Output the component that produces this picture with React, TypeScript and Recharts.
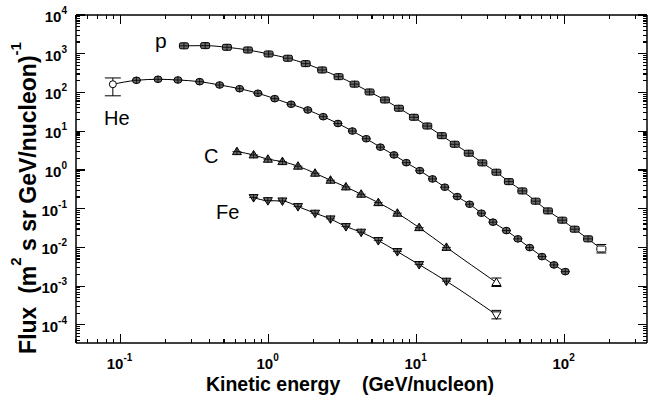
import { ComposedChart, Line, Scatter, XAxis, YAxis, ErrorBar } from 'recharts';

// Kinetic energy (GeV/nucleon) and flux values
const pEnergy = [0.268, 0.373, 0.523, 0.725, 1.0, 1.35, 1.78, 2.3, 2.97, 3.81, 4.81, 6.11, 7.59, 9.59, 11.8, 14.8, 18.1, 22.5, 27.8, 34.6, 42.0, 51.8, 63.7, 77.1, 96.4, 117, 144, 177];
const pFlux = [1600, 1620, 1466, 1250, 986, 764, 555, 381, 256, 164, 103, 64, 39.1, 22.9, 13.6, 7.67, 4.6, 2.7, 1.52, 0.872, 0.499, 0.287, 0.156, 0.0875, 0.0504, 0.0295, 0.0166, 0.0091];

const heEnergy = [0.0887, 0.128, 0.179, 0.244, 0.342, 0.467, 0.637, 0.847, 1.1, 1.42, 1.84, 2.34, 2.94, 3.68, 4.57, 5.69, 7.03, 8.52, 10.5, 12.8, 15.5, 18.8, 22.8, 27.4, 32.8, 40.4, 48.3, 58.0, 70.3, 84.7, 101];
const heFlux = [163, 206, 219, 210, 190, 156, 125, 95.3, 69.2, 49.6, 35.3, 23.7, 15.8, 10.1, 6.39, 3.87, 2.44, 1.54, 0.96, 0.586, 0.358, 0.205, 0.13, 0.0763, 0.0448, 0.0272, 0.0166, 0.00988, 0.00579, 0.00353, 0.00237];
// error bar of the lowest-energy He point: [low, high]
const heLowRange = [82, 237];

const cEnergy = [0.611, 0.792, 0.989, 1.24, 1.58, 2.06, 2.62, 3.33, 4.22, 5.51, 7.41, 10.4, 15.9, 34.6];
const cFlux = [2.97, 2.44, 1.89, 1.64, 1.25, 0.822, 0.542, 0.364, 0.236, 0.143, 0.0763, 0.0324, 0.01, 0.00124];

const feEnergy = [0.792, 0.989, 1.24, 1.58, 2.06, 2.62, 3.33, 4.22, 5.51, 7.41, 10.4, 15.9, 34.6];
const feFlux = [0.193, 0.161, 0.158, 0.113, 0.0763, 0.0544, 0.0344, 0.0247, 0.015, 0.00779, 0.0036, 0.00134, 0.000181];

const X_DECADES = [0.01, 0.1, 1, 10, 100];
const Y_DECADES = [1e-5, 1e-4, 1e-3, 1e-2, 1e-1, 1, 10, 100, 1000, 10000];
const X_DOMAIN = [0.05, 360];
const Y_DOMAIN = [3.4e-5, 1e4];

const withMinors = (decades: number[], domain: number[]) => {
  const out: number[] = [];
  decades.forEach((d) => {
    for (let m = 1; m <= 9; m++) {
      const v = m * d;
      if (v >= domain[0] * 0.999 && v <= domain[1] * 1.001) out.push(v);
    }
  });
  return out;
};
const X_TICKS = withMinors(X_DECADES, X_DOMAIN);
const Y_TICKS = withMinors(Y_DECADES, Y_DOMAIN);

const toPoints = (xs: number[], ys: number[]) => xs.map((x, i) => ({ x, y: ys[i] }));
const pData = toPoints(pEnergy, pFlux);
const heData = toPoints(heEnergy, heFlux);
const cData = toPoints(cEnergy, cFlux);
const feData = toPoints(feEnergy, feFlux);
const heLow = [
  { x: heEnergy[0], y: heFlux[0], err: [heFlux[0] - heLowRange[0], heLowRange[1] - heFlux[0]] },
];

const FONT = '"Liberation Sans", Arial, sans-serif';
const INK = '#000';
const FILL = '#6a6a6a';

const isDecade = (v: number) => {
  const l = Math.log10(v);
  return Math.abs(l - Math.round(l)) < 1e-6;
};

const TickLabel = ({ x, y, v, anchor }: { x: number; y: number; v: number; anchor: string }) => (
  <text x={x} y={y} textAnchor={anchor} fontFamily={FONT} fontWeight="bold" fontSize={15} fill={INK}>
    10
    <tspan dy={-8} fontSize={10}>{Math.round(Math.log10(v))}</tspan>
  </text>
);

const BottomTick = (props: any) => {
  const { x, y, payload } = props;
  const major = isDecade(payload.value);
  return (
    <g>
      <line x1={x} x2={x} y1={y} y2={y - (major ? 9 : 4)} stroke={INK} strokeWidth={1.2} shapeRendering="crispEdges" />
      {major && <TickLabel x={x - 1} y={y + 26} v={payload.value} anchor="middle" />}
    </g>
  );
};

const TopTick = (props: any) => {
  const { x, y, payload } = props;
  const major = isDecade(payload.value);
  return <line x1={x} x2={x} y1={y} y2={y + (major ? 9 : 4)} stroke={INK} strokeWidth={1.2} shapeRendering="crispEdges" />;
};

const LeftTick = (props: any) => {
  const { x, y, payload } = props;
  const major = isDecade(payload.value);
  return (
    <g>
      <line x1={x} x2={x + (major ? 9 : 4)} y1={y} y2={y} stroke={INK} strokeWidth={1.2} shapeRendering="crispEdges" />
      {major && <TickLabel x={x - 9} y={y + 7} v={payload.value} anchor="end" />}
    </g>
  );
};

const RightTick = (props: any) => {
  const { x, y, payload } = props;
  const major = isDecade(payload.value);
  return <line x1={x} x2={x - (major ? 9 : 4)} y1={y} y2={y} stroke={INK} strokeWidth={1.2} shapeRendering="crispEdges" />;
};

type Kind = 'square' | 'circle' | 'up' | 'down';

const marker = (kind: Kind, open: boolean, cx: number, cy: number) => {
  const fill = open ? '#fff' : FILL;
  let body;
  if (kind === 'square') {
    body = <rect x={cx - 4.5} y={cy - 3} width={9} height={6} rx={1.5} fill={fill} stroke={INK} strokeWidth={1} />;
  } else if (kind === 'circle') {
    body = <ellipse cx={cx} cy={cy} rx={4} ry={3.3} fill={fill} stroke={INK} strokeWidth={1} />;
  } else if (kind === 'up') {
    body = <polygon points={`${cx},${cy - 4.5} ${cx - 4.5},${cy + 3} ${cx + 4.5},${cy + 3}`} fill={fill} stroke={INK} strokeWidth={1} />;
  } else {
    body = <polygon points={`${cx},${cy + 4.5} ${cx - 4.5},${cy - 3} ${cx + 4.5},${cy - 3}`} fill={fill} stroke={INK} strokeWidth={1} />;
  }
  return (
    <g>
      {body}
      {open ? (
        <g stroke={INK} strokeWidth={1}>
          <line x1={cx - 5} x2={cx + 5} y1={cy - 4.5} y2={cy - 4.5} />
          <line x1={cx - 5} x2={cx + 5} y1={cy + 4} y2={cy + 4} />
        </g>
      ) : (
        <g stroke={INK} strokeWidth={0.8}>
          <line x1={cx - 4.5} x2={cx + 4.5} y1={cy} y2={cy} />
          <line x1={cx} x2={cx} y1={cy - 3.5} y2={cy + 3.5} />
        </g>
      )}
    </g>
  );
};

const makeDot = (kind: Kind, n: number, skipFirst = false, openLast = true) => (props: any) => {
  const { cx, cy, index } = props;
  if (cx == null || cy == null || (skipFirst && index === 0)) return <g key={`d${index}`} />;
  return <g key={`d${index}`}>{marker(kind, openLast && index === n - 1, cx, cy)}</g>;
};

const lineProps = {
  xAxisId: 'b',
  yAxisId: 'l',
  dataKey: 'y',
  type: 'monotone' as const,
  stroke: INK,
  strokeWidth: 1,
  isAnimationActive: false,
  activeDot: false as const,
};

const axisLine = { stroke: INK, strokeWidth: 1.5 };

export default function App() {
  return (
    <div style={{ position: 'absolute', left: 0, top: 0, width: 649, height: 401, background: '#fff' }}>
      <ComposedChart width={649} height={401} margin={{ top: 14, right: 1, bottom: 57, left: 75 }}>
        <XAxis xAxisId="b" type="number" dataKey="x" scale="log" domain={X_DOMAIN} allowDataOverflow ticks={X_TICKS} interval={0} tick={BottomTick} tickLine={false} tickSize={0} tickMargin={0} height={1} axisLine={axisLine} />
        <XAxis xAxisId="t" orientation="top" type="number" dataKey="x" scale="log" domain={X_DOMAIN} allowDataOverflow ticks={X_TICKS} interval={0} tick={TopTick} tickLine={false} tickSize={0} tickMargin={0} height={1} axisLine={axisLine} />
        <YAxis yAxisId="l" type="number" dataKey="y" scale="log" domain={Y_DOMAIN} allowDataOverflow ticks={Y_TICKS} interval={0} tick={LeftTick} tickLine={false} tickSize={0} tickMargin={0} width={1} axisLine={axisLine} />
        <YAxis yAxisId="r" orientation="right" type="number" dataKey="y" scale="log" domain={Y_DOMAIN} allowDataOverflow ticks={Y_TICKS} interval={0} tick={RightTick} tickLine={false} tickSize={0} tickMargin={0} width={1} axisLine={axisLine} />
        <Line {...lineProps} data={pData} name="p" dot={makeDot('square', pData.length)} />
        <Line {...lineProps} data={heData} name="He" dot={makeDot('circle', heData.length, true, false)} />
        <Line {...lineProps} data={cData} name="C" dot={makeDot('up', cData.length)} />
        <Line {...lineProps} data={feData} name="Fe" dot={makeDot('down', feData.length)} />
        <Scatter xAxisId="b" yAxisId="l" data={heLow} dataKey="y" isAnimationActive={false} shape={(p: any) => <ellipse cx={p.cx} cy={p.cy} rx={3.5} ry={3.5} fill="#fff" stroke={INK} strokeWidth={1} />}>
          <ErrorBar dataKey="err" direction="y" width={8} stroke={INK} strokeWidth={1} isAnimationActive={false} />
        </Scatter>
      </ComposedChart>
      <svg width={649} height={401} style={{ position: 'absolute', left: 0, top: 0, pointerEvents: 'none' }}>
        <g fontFamily={FONT} fill={INK}>
          <text x={155} y={48} fontSize={21}>p</text>
          <text x={104} y={125} fontSize={20}>He</text>
          <text x={204} y={163} fontSize={20}>C</text>
          <text x={216} y={219} fontSize={20}>Fe</text>
          <text x={350} y={391} textAnchor="middle" fontSize={19.5} fontWeight="bold" style={{ whiteSpace: 'pre' }}>
            Kinetic energy    (GeV/nucleon)
          </text>
          <text transform="translate(36,198) rotate(-90)" textAnchor="middle" fontSize={23} fontWeight="bold" style={{ whiteSpace: 'pre' }}>
            Flux  (m<tspan dy={-15} fontSize={15}>2</tspan><tspan dy={15}> s sr GeV/nucleon)</tspan><tspan dy={-15} fontSize={15}>-1</tspan>
          </text>
        </g>
      </svg>
    </div>
  );
}
